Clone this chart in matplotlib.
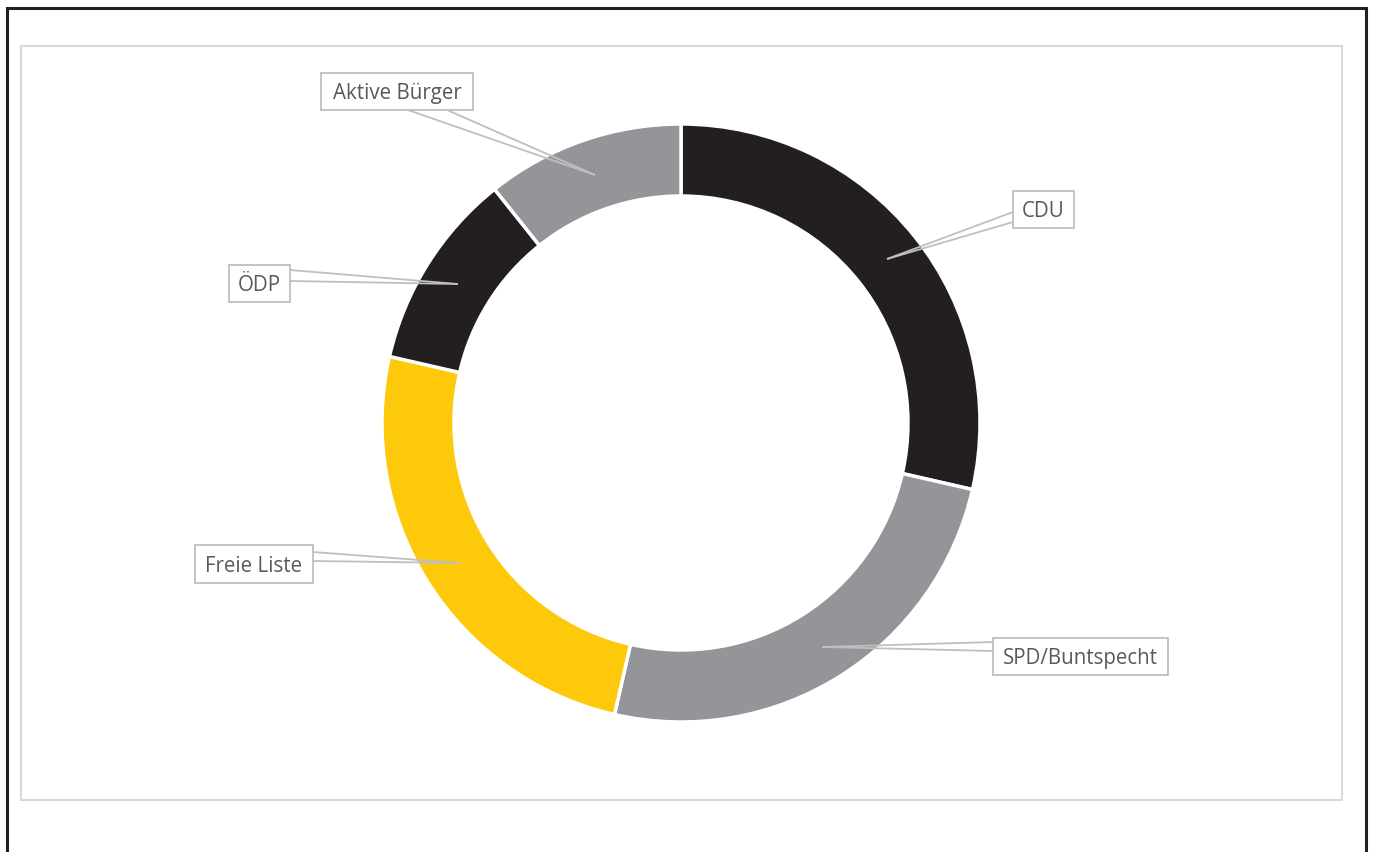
import matplotlib
matplotlib.use("Agg")
import matplotlib.pyplot as plt
from matplotlib.patches import Rectangle

# seats per party
parties = ["CDU", "SPD/Buntspecht", "Freie Liste", "ÖDP", "Aktive Bürger"]
seats = [8, 7, 7, 3, 3]
colors = ["#231f20", "#939598", "#fdc90a", "#231f20", "#939598"]

W, H = 1375, 853

def fy(y):  # pixel row -> data y
    return H - y

fig = plt.figure(figsize=(W / 100, H / 100), dpi=100)
ax = fig.add_axes([0, 0, 1, 1])

cx, cy, r_out, r_in = 681, 424, 299, 227
ax.pie(seats, colors=colors, startangle=90, counterclock=False,
       radius=r_out, center=(cx, fy(cy)),
       wedgeprops=dict(width=r_out - r_in, edgecolor="white", linewidth=2.5))

ax.set_xlim(0, W)
ax.set_ylim(0, H)
ax.set_aspect("auto")
ax.axis("off")

# frames
ax.add_patch(Rectangle((7, -20), 1366 - 7, fy(9) + 20, fill=False,
                       edgecolor="#231f20", linewidth=2.2, clip_on=False))
ax.add_patch(Rectangle((21, fy(801)), 1342 - 21, 801 - 47, fill=False,
                       edgecolor="#d9d9d9", linewidth=1.5))

# label boxes: (x0, y0, x1, y1), pointer base points, tip
callouts = {
    "Aktive Bürger": ((321, 74, 473, 111), [(408, 111), (447, 111)], (595, 176)),
    "CDU": ((1013, 192, 1074, 229), [(1013, 213), (1013, 223)], (887, 260)),
    "ÖDP": ((229, 266, 290, 303), [(290, 271), (290, 282)], (458, 285)),
    "Freie Liste": ((195, 546, 313, 584), [(313, 553), (313, 562)], (459, 564)),
    "SPD/Buntspecht": ((993, 639, 1168, 676), [(993, 643), (993, 652)], (822, 648)),
}

lc = "#bfbfbf"
for name in parties:
    (x0, y0, x1, y1), base, tip = callouts[name]
    ax.add_patch(Rectangle((x0, fy(y1)), x1 - x0, y1 - y0, facecolor="white",
                           edgecolor=lc, linewidth=1.3, zorder=5))
    for bx, by in base:
        ax.plot([bx, tip[0]], [fy(by), fy(tip[1])], color=lc, lw=1.3,
                zorder=4, solid_capstyle="butt")
    ax.text((x0 + x1) / 2, fy((y0 + y1) / 2) - 1, name, ha="center", va="center",
            fontsize=14.8, color="#595959", family="Open Sans", zorder=6)

fig.savefig("out.png", dpi=100)
